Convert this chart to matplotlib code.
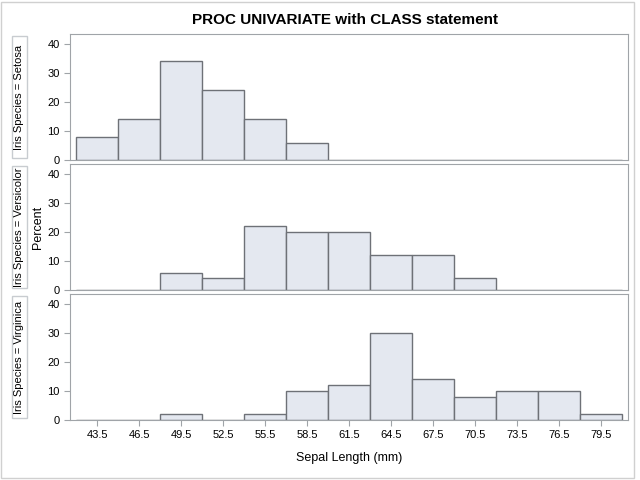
import matplotlib.pyplot as plt
from matplotlib.patches import Rectangle

# bin midpoints (mm) and percents per species
mids = [43.5, 46.5, 49.5, 52.5, 55.5, 58.5, 61.5, 64.5, 67.5, 70.5, 73.5, 76.5, 79.5]
setosa = [8, 14, 34, 24, 14, 6, 0, 0, 0, 0, 0, 0, 0]
versicolor = [0, 0, 6, 4, 22, 20, 20, 12, 12, 4, 0, 0, 0]
virginica = [0, 0, 2, 0, 2, 10, 12, 30, 14, 8, 10, 10, 2]
species = ['Setosa', 'Versicolor', 'Virginica']

W, H = 640, 480
fig = plt.figure(figsize=(6.4, 4.8), dpi=100)
plt.rcParams['font.family'] = ['Liberation Sans', 'DejaVu Sans']

# outer border
fig.patches.append(Rectangle((1 / W, 2 / H), 633 / W, 476 / H, transform=fig.transFigure,
                             fill=False, edgecolor='#D0D0D0', lw=1))

fig.text(345 / W, 1 - 20 / H, 'PROC UNIVARIATE with CLASS statement',
         ha='center', va='center', fontsize=11, fontweight='bold')

panels = [(34, 160), (164, 290), (294, 420)]
left, right = 70, 628
for i, (data, name) in enumerate(zip([setosa, versicolor, virginica], species)):
    top, bot = panels[i]
    ax = fig.add_axes([left / W, 1 - bot / H, (right - left) / W, (bot - top) / H])
    ax.bar(mids, data, width=3, color='#E4E8F0', edgecolor='#6E7177', lw=1)
    ax.set_xlim(41.57, 81.43)
    ax.set_ylim(0, 43.4)
    ax.set_yticks([0, 10, 20, 30, 40])
    ax.set_xticks(mids)
    for s in ax.spines.values():
        s.set_color('#A0A4A8')
    ax.tick_params(colors='#A0A4A8', labelcolor='black', labelsize=8, length=4)
    if i < 2:
        ax.tick_params(axis='x', bottom=False, labelbottom=False)
    else:
        ax.set_xticklabels([str(m) for m in mids])
        ax.set_xlabel('Sepal Length (mm)', fontsize=9, labelpad=8)
    # row label box
    fig.patches.append(Rectangle((12 / W, 1 - (bot - 2) / H), 15 / W, (bot - top - 4) / H,
                                 transform=fig.transFigure, fill=False,
                                 edgecolor='#C8CCD0', lw=1))
    fig.text(19.5 / W, 1 - ((top + bot) / 2) / H, 'Iris Species = ' + name,
             rotation=90, ha='center', va='center', fontsize=8)

fig.text(38 / W, 1 - 227 / H, 'Percent', rotation=90, ha='center', va='center', fontsize=9)

fig.savefig('out.png', dpi=100)
